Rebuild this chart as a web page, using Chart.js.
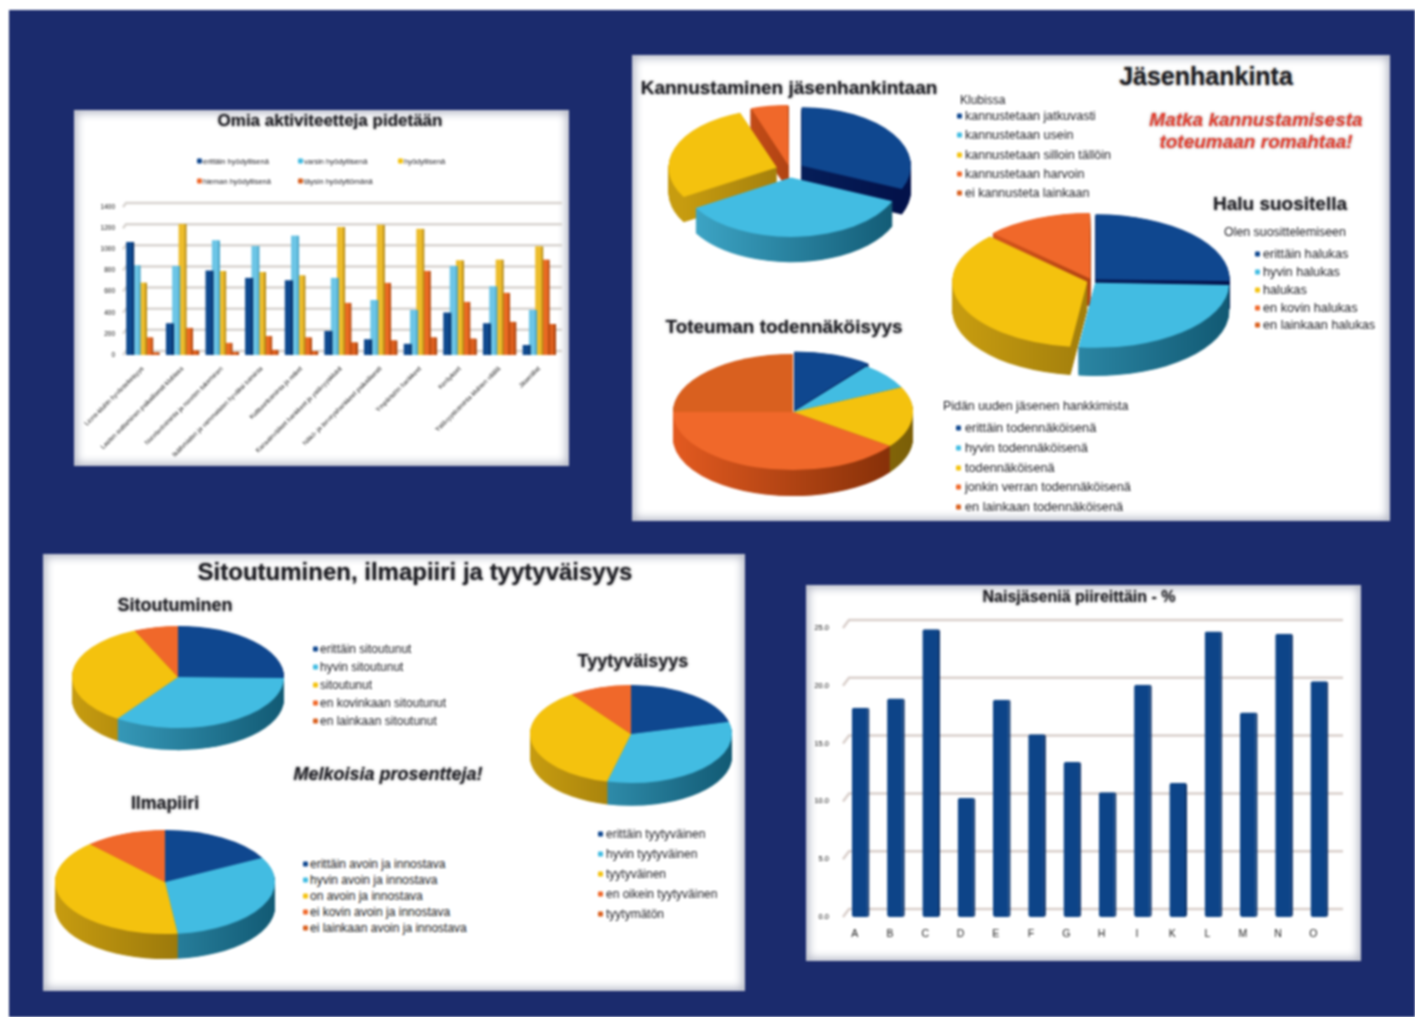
<!DOCTYPE html>
<html lang="fi">
<head>
    <meta charset="UTF-8">
    <title>Jäsenkysely</title>
    <script src="https://cdn.jsdelivr.net/npm/chart.js"></script>
    <style>
        html, body { margin: 0; padding: 0; background: #ffffff; }
        #stage { position: absolute; left: 9px; top: 10px; width: 1406px; height: 1007px; background: #1b2b6d; }
        #page { position: absolute; left: 0; top: 0; width: 1415px; height: 1017px; overflow: hidden; filter: blur(0.9px); }
        .panel { position: absolute; background: #ffffff; box-shadow: inset 0 0 8px 3px #b4b8c6; }
        canvas { position: absolute; }
        .txt { position: absolute; white-space: nowrap; font-family: "Liberation Sans", sans-serif; color: #1c1c22; transform: translateY(-50%); }
        .head { font-weight: bold; text-shadow: 0 0 3px #9a9a9a; }
        .mark { position: absolute; width: 5px; height: 5px; border-radius: 1px; transform: translateY(-50%); }
    </style>
</head>
<body>
    <div id="page"><div id="stage"></div></div>

    <script>
        // top left chart
        const activityLabels = [
            "Lions-klubin hyväntekeisyys", "Lasten auttaminen paikallisesti klubissa",
            "Nuorisotoiminta ja nuorten tukeminen", "Ikäihmisten ja vammaisten hyväksi toiminta",
            "Kulttuuritoiminta ja retket", "Kansainväliset hankkeet ja ystävyysklubit",
            "Näkö- ja terveyshankkeet paikallisesti", "Ympäristön hankkeet",
            "Keräykset", "Ystävyystoiminta klubien välillä",
            "Jäsenillat"
        ];
        const activityNames = ["erittäin hyödyllisenä", "varsin hyödyllisenä", "hyödyllisenä", "hieman hyödyllisenä", "täysin hyödyttömänä"];
        const activityVery = [1070, 300, 800, 730, 708, 226, 148, 107, 403, 300, 94];
        const activityQuite = [850, 843, 1085, 1030, 1130, 730, 520, 425, 843, 650, 425];
        const activityUseful = [685, 1240, 795, 785, 755, 1210, 1233, 1195, 897, 903, 1028];
        const activitySome = [167, 258, 115, 180, 167, 494, 683, 796, 503, 590, 903];
        const activityNone = [25, 45, 30, 50, 38, 120, 140, 167, 157, 315, 293];

        // bottom right chart
        const districtLabels = ["A", "B", "C", "D", "E", "F", "G", "H", "I", "K", "L", "M", "N", "O"];
        const districtWomen = [18.1, 18.9, 24.9, 10.3, 18.8, 15.8, 13.4, 10.8, 20.1, 11.6, 24.7, 17.7, 24.5, 20.4];

        // pies
        const encourageNames = ["kannustetaan jatkuvasti", "kannustetaan usein", "kannustetaan silloin tällöin", "kannustetaan harvoin", "ei kannusteta lainkaan"];
        const encourageValues = [31.5, 35, 28, 5.5, 0];
        const recommendNames = ["erittäin halukas", "hyvin halukas", "halukas", "en kovin halukas", "en lainkaan halukas"];
        const recommendValues = [25.5, 26.5, 35.2, 12.8, 0];
        const likelyNames = ["erittäin todennäköisenä", "hyvin todennäköisenä", "todennäköisenä", "jonkin verran todennäköisenä", "en lainkaan todennäköisenä"];
        const likelyValues = [10.5, 7.5, 17, 40, 25];
        const commitNames = ["erittäin sitoutunut", "hyvin sitoutunut", "sitoutunut", "en kovinkaan sitoutunut", "en lainkaan sitoutunut"];
        const commitValues = [25.3, 34.4, 33.6, 6.7, 0];
        const climateNames = ["erittäin avoin ja innostava", "hyvin avoin ja innostava", "on avoin ja innostava", "ei kovin avoin ja innostava", "ei lainkaan avoin ja innostava"];
        const climateValues = [17.3, 31, 40, 12, 0];
        const happyNames = ["erittäin tyytyväinen", "hyvin tyytyväinen", "tyytyväinen", "en oikein tyytyväinen", "tyytymätön"];
        const happyValues = [21, 32.8, 36.2, 10, 0];

        const sliceColors = ["#0f478f", "#42bce2", "#f4c20e", "#f0682a", "#d9601f"];
        const wallColors = [["#0a2d6b", "#03124a"], ["#3fa9ca", "#125a74"], ["#c79c10", "#7a5e08"], ["#e35a20", "#7d2c06"], ["#c9551a", "#7d2c06"]];

        const page = document.getElementById("page");

        function addBox(x, y, w, h) {
            const d = document.createElement("div");
            d.className = "panel";
            d.style.cssText = `left:${x}px;top:${y}px;width:${w}px;height:${h}px`;
            page.appendChild(d);
        }

        function addText(str, x, y, size, extra) {
            const d = document.createElement("div");
            d.className = "txt" + (extra && extra.head ? " head" : "");
            d.textContent = str;
            d.style.left = x + "px";
            d.style.top = y + "px";
            d.style.fontSize = size + "px";
            if (extra && extra.center) d.style.transform = "translate(-50%,-50%)";
            if (extra && extra.italic) d.style.fontStyle = "italic";
            if (extra && extra.color) d.style.color = extra.color;
            page.appendChild(d);
        }

        function addKey(name, color, markX, textX, y, size) {
            const m = document.createElement("div");
            m.className = "mark";
            m.style.cssText = `left:${markX}px;top:${y}px;background:${color}`;
            page.appendChild(m);
            addText(name, textX, y, size);
        }

        function addLegend(names, markX, textX, ys, size) {
            names.forEach((n, i) => addKey(n, sliceColors[i], markX, textX, ys[i], size));
        }

        // back wall of the 3d bar charts, the lines sit behind the bars
        const wallPlugin = {
            id: "wall",
            beforeDatasetsDraw(chart, args, o) {
                const { ctx, chartArea, scales } = chart;
                ctx.save();
                ctx.strokeStyle = o.color;
                ctx.lineWidth = o.width;
                scales.y.ticks.forEach(t => {
                    const y = scales.y.getPixelForValue(t.value);
                    ctx.beginPath();
                    ctx.moveTo(chartArea.left, y);
                    ctx.lineTo(chartArea.left + o.dx, y - o.dy);
                    ctx.lineTo(chartArea.right + o.dx, y - o.dy);
                    ctx.stroke();
                });
                ctx.restore();
            }
        };

        // squashes the pie and draws the side of it under the top face
        const pie3dPlugin = {
            id: "pie3d",
            beforeDatasetsDraw(chart, args, o) {
                const { ctx } = chart;
                const arcs = chart.getDatasetMeta(0).data;
                const cx = arcs[0].x, cy = arcs[0].y, r = arcs[0].outerRadius;
                ctx.save();
                ctx.translate(cx, cy);
                ctx.scale(1, o.squash);
                ctx.translate(-cx, -cy);
                const fills = wallColors.map(c => {
                    const g = ctx.createLinearGradient(cx - r, 0, cx + r, 0);
                    g.addColorStop(0, c[0]);
                    g.addColorStop(1, c[1]);
                    return g;
                });
                for (let d = Math.round(o.depth / o.squash); d >= 1; d--) {
                    arcs.forEach((arc, i) => {
                        if (arc.circumference < 0.001) return;
                        const mid = (arc.startAngle + arc.endAngle) / 2;
                        // same shift and radius growth the arc element uses for offset
                        const off = (arc.options.offset || 0) / 4;
                        const grow = off * (1 - Math.sin(Math.min(Math.PI, arc.circumference)));
                        const x = cx + Math.cos(mid) * off, y = cy + Math.sin(mid) * off + d;
                        ctx.fillStyle = fills[i];
                        ctx.beginPath();
                        ctx.moveTo(x, y);
                        ctx.arc(x, y, arc.outerRadius + grow, arc.startAngle, arc.endAngle);
                        ctx.closePath();
                        ctx.fill();
                    });
                }
            },
            afterDatasetsDraw(chart) {
                chart.ctx.restore();
            }
        };

        function addPie(names, values, cx, cy, rx, ry, depth, blast) {
            const maxBlast = Math.max(...blast);
            const pad = 24;
            const side = 2 * pad + 2 * rx + 4 * maxBlast;
            const c = document.createElement("canvas");
            c.width = side;
            c.height = side;
            c.style.left = (cx - side / 2) + "px";
            c.style.top = (cy - side / 2) + "px";
            page.appendChild(c);
            new Chart(c.getContext("2d"), {
                type: "pie",
                data: {
                    labels: names,
                    datasets: [{ data: values, backgroundColor: sliceColors, borderWidth: 0, offset: blast.map(b => b * 4), clip: false }]
                },
                options: {
                    responsive: false,
                    animation: false,
                    layout: { padding: pad },
                    plugins: { legend: { display: false }, tooltip: { enabled: false }, pie3d: { squash: ry / rx, depth: depth } }
                },
                plugins: [pie3dPlugin]
            });
        }

        function addBarChart(x, y, w, h, cfg) {
            const c = document.createElement("canvas");
            c.width = w;
            c.height = h;
            c.style.left = x + "px";
            c.style.top = y + "px";
            page.appendChild(c);
            new Chart(c.getContext("2d"), {
                type: "bar",
                data: { labels: cfg.labels, datasets: cfg.datasets },
                options: {
                    responsive: false,
                    animation: false,
                    layout: { padding: cfg.padding },
                    plugins: { legend: { display: false }, tooltip: { enabled: false }, wall: cfg.wall },
                    scales: {
                        x: {
                            afterFit(s) { s.height = cfg.xHeight; s.paddingLeft = 0; s.paddingRight = 0; },
                            grid: { display: false },
                            border: { display: false },
                            ticks: cfg.xTicks
                        },
                        y: {
                            min: 0,
                            max: cfg.max,
                            afterFit(s) { s.width = cfg.yWidth; s.paddingTop = 0; s.paddingBottom = 0; },
                            grid: { display: false, drawTicks: false },
                            border: { display: false },
                            ticks: cfg.yTicks
                        }
                    }
                },
                plugins: [wallPlugin]
            });
        }

        function barSet(name, values, color, edge, pct, cat) {
            return {
                label: name, data: values, backgroundColor: color, borderColor: edge,
                borderWidth: { right: 2 }, borderSkipped: false, barPercentage: pct, categoryPercentage: cat
            };
        }

        addBox(74, 110, 495, 356);
        addBox(632, 55, 758, 466);
        addBox(43, 554, 702, 437);
        addBox(806, 585, 555, 376);

        addBarChart(74, 110, 495, 356, {
            labels: activityLabels,
            datasets: [
                barSet(activityNames[0], activityVery, "#0f4a8f", "#0a2f66", 1.25, 0.8),
                barSet(activityNames[1], activityQuite, "#6cc5e6", "#4aa6c8", 1.25, 0.8),
                barSet(activityNames[2], activityUseful, "#edbd2c", "#b88c16", 1.25, 0.8),
                barSet(activityNames[3], activitySome, "#ea6a22", "#b54a12", 1.25, 0.8),
                barSet(activityNames[4], activityNone, "#dd5f1d", "#a8420e", 1.25, 0.8)
            ],
            max: 1400,
            padding: { top: 97, right: 10, left: 0, bottom: 0 },
            xHeight: 111,
            yWidth: 49,
            wall: { color: "#d8d4d0", width: 2.5, dx: 3, dy: 4 },
            xTicks: { autoSkip: false, minRotation: 45, maxRotation: 45, padding: 2, font: { family: "Liberation Sans", size: 6.5 }, color: "#111" },
            yTicks: { stepSize: 200, padding: 8, font: { family: "Liberation Sans", size: 6.5 }, color: "#111", callback: v => String(v) }
        });

        addBarChart(806, 585, 555, 376, {
            labels: districtLabels,
            datasets: [Object.assign(barSet("Naisjäseniä", districtWomen, "#0d4488", "#0a2f66", 0.5, 1), { borderRadius: 2 })],
            max: 25,
            padding: { top: 43, right: 24, left: 0, bottom: 0 },
            xHeight: 44,
            yWidth: 37,
            wall: { color: "#d9cfcb", width: 2.5, dx: 6, dy: 8 },
            xTicks: { labelOffset: -6, padding: 3, font: { family: "Liberation Sans", size: 10.5 }, color: "#222" },
            yTicks: {
                stepSize: 5, padding: 14, font: { family: "Liberation Sans", size: 7.5 }, color: "#111",
                callback: v => v.toFixed(1)
            }
        });

        addPie(encourageNames, encourageValues, 790, 170, 108, 58, 25, [14, 14, 14, 8, 0]);
        addPie(recommendNames, recommendValues, 1092, 281, 134, 65, 28, [5, 5, 5, 5, 0]);
        addPie(likelyNames, likelyValues, 793, 412, 120, 58, 26, [4, 0, 0, 0, 0]);
        addPie(commitNames, commitValues, 178, 677, 106, 51, 22, [0, 0, 0, 0, 0]);
        addPie(climateNames, climateValues, 165, 882, 110, 52, 25, [0, 0, 0, 0, 0]);
        addPie(happyNames, happyValues, 631, 734, 101, 49, 23, [0, 0, 0, 0, 0]);

        addText("Omia aktiviteetteja pidetään", 330, 121, 17, { head: true, center: true });
        addKey(activityNames[0], sliceColors[0], 197, 203, 161, 7.5);
        addKey(activityNames[1], sliceColors[1], 298, 304, 161, 7.5);
        addKey(activityNames[2], sliceColors[2], 398, 404, 161, 7.5);
        addKey(activityNames[3], sliceColors[3], 197, 203, 181, 7.5);
        addKey(activityNames[4], sliceColors[4], 298, 304, 181, 7.5);

        addText("Jäsenhankinta", 1206, 76, 25, { head: true, center: true });
        addText("Kannustaminen jäsenhankintaan", 789, 88, 19, { head: true, center: true });
        addText("Klubissa", 960, 100, 12);
        addLegend(encourageNames, 957, 965, [116, 135, 155, 174, 193], 12.5);
        addText("Matka kannustamisesta", 1256, 120, 19, { head: true, center: true, italic: true, color: "#e53a2b" });
        addText("toteumaan romahtaa!", 1256, 142, 19, { head: true, center: true, italic: true, color: "#e53a2b" });
        addText("Halu suositella", 1280, 204, 19, { head: true, center: true });
        addText("Olen suosittelemiseen", 1224, 232, 12.4);
        addLegend(recommendNames, 1255, 1263, [254, 272, 290, 308, 325], 12.7);
        addText("Toteuman todennäköisyys", 784, 327, 18.9, { head: true, center: true });
        addText("Pidän uuden jäsenen hankkimista", 943, 406, 12.4);
        addLegend(likelyNames, 956, 965, [428, 448, 468, 487, 507], 12.7);

        addText("Sitoutuminen, ilmapiiri ja tyytyväisyys", 415, 572, 24, { head: true, center: true });
        addText("Sitoutuminen", 175, 605, 18, { head: true, center: true });
        addLegend(commitNames, 313, 320, [649, 667, 685, 703, 721], 12);
        addText("Tyytyväisyys", 633, 661, 18, { head: true, center: true });
        addLegend(happyNames, 598, 606, [834, 854, 874, 894, 914], 12);
        addText("Melkoisia prosentteja!", 388, 774, 18, { head: true, center: true, italic: true });
        addText("Ilmapiiri", 165, 803, 17.8, { head: true, center: true });
        addLegend(climateNames, 303, 310, [864, 880, 896, 912, 928], 12);
        addText("Naisjäseniä piireittäin - %", 1079, 597, 16, { head: true, center: true });
    </script>
</body>
</html>
